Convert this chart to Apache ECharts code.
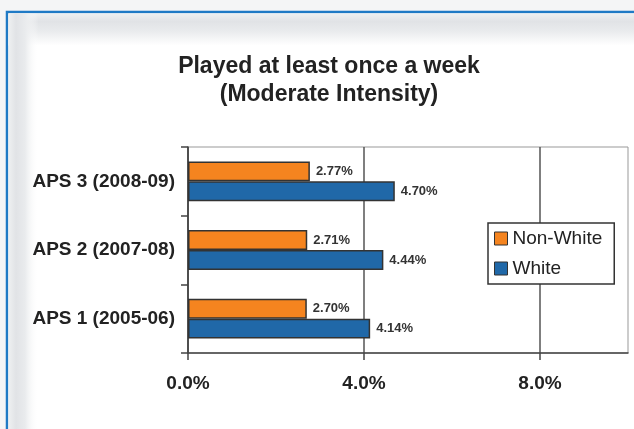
<!DOCTYPE html>
<html>
<head>
<meta charset="utf-8">
<style>
  html, body { margin: 0; padding: 0; background: #f4f5f6; }
  #chart { width: 634px; height: 429px; }
</style>
<script src="https://cdn.jsdelivr.net/npm/echarts@6/dist/echarts.min.js"></script>
</head>
<body>
<div id="chart"></div>
<script>
  // data
  const categories = ['APS 1 (2005-06)', 'APS 2 (2007-08)', 'APS 3 (2008-09)'];
  const nonWhite = [2.70, 2.71, 2.77];
  const white = [4.14, 4.44, 4.70];
  const xTicks = [0, 4, 8];

  const FONT = '"Liberation Sans", Arial, sans-serif';
  const chart = echarts.init(document.getElementById('chart'));

  const barLabel = {
    show: true,
    position: 'right',
    distance: 6,
    color: '#333',
    fontSize: 13,
    fontWeight: 'bold',
    fontFamily: FONT,
    formatter: p => p.value.toFixed(2) + '%'
  };

  const option = {
    backgroundColor: '#f4f5f6',
    animation: false,
    textStyle: { fontFamily: FONT },
    // frame: blue border + soft grey shadow along top / left
    graphic: [
      {
        type: 'rect', z: -100, silent: true,
        shape: { x: 7, y: 12, width: 700, height: 500 },
        style: { fill: '#fff', stroke: '#1f7ac5', lineWidth: 2.5 }
      },
      {
        type: 'rect', z: -99, silent: true,
        shape: { x: 8.5, y: 13.5, width: 640, height: 32 },
        style: {
          fill: new echarts.graphic.LinearGradient(0, 0, 0, 1, [
            { offset: 0, color: '#eef0f1' },
            { offset: 0.25, color: '#e1e3e6' },
            { offset: 0.55, color: '#e9ebed' },
            { offset: 1, color: '#ffffff' }
          ])
        }
      },
      {
        type: 'rect', z: -98, silent: true,
        shape: { x: 8.5, y: 13.5, width: 30, height: 500 },
        style: {
          fill: new echarts.graphic.LinearGradient(0, 0, 1, 0, [
            { offset: 0, color: '#eef0f1' },
            { offset: 0.25, color: '#e1e3e6' },
            { offset: 0.55, color: '#e9ebed' },
            { offset: 1, color: 'rgba(255,255,255,0)' }
          ])
        }
      }
    ],
    title: {
      text: 'Played at least once a week\n(Moderate Intensity)',
      left: 329,
      top: 53,
      padding: 0,
      textAlign: 'center',
      textStyle: {
        fontFamily: FONT,
        fontSize: 23,
        fontWeight: 'bold',
        color: '#222',
        lineHeight: 28
      }
    },
    legend: {
      data: ['Non-White', 'White'],
      orient: 'vertical',
      left: 488,
      top: 223,
      padding: [6, 12, 6, 6],
      itemWidth: 13,
      itemHeight: 13,
      itemGap: 11,
      backgroundColor: '#fff',
      borderColor: '#333',
      borderWidth: 1.5,
      borderRadius: 0,
      icon: 'rect',
      itemStyle: { borderColor: '#333', borderWidth: 1 },
      textStyle: { fontFamily: FONT, fontSize: 19, color: '#222', padding: [2, 0, 0, 0] }
    },
    grid: {
      left: 188,
      right: 6,
      top: 147,
      bottom: 76,
      show: true,
      backgroundColor: '#fff',
      borderColor: '#999',
      borderWidth: 1
    },
    xAxis: {
      type: 'value',
      min: 0,
      max: 10,
      interval: 4,
      axisLine: { show: true, lineStyle: { color: '#444', width: 1.5 } },
      axisTick: { show: true, length: 7, customValues: xTicks, lineStyle: { color: '#444', width: 1.5 } },
      axisLabel: {
        customValues: xTicks,
        margin: 21,
        color: '#222',
        fontSize: 19,
        fontWeight: 'bold',
        fontFamily: FONT,
        formatter: v => v.toFixed(1) + '%'
      },
      splitLine: {
        show: true,
        lineStyle: { color: '#555', width: 1.5 }
      }
    },
    yAxis: {
      type: 'category',
      data: categories,
      axisLine: { show: true, lineStyle: { color: '#444', width: 1.5 } },
      axisTick: { show: true, length: 7, lineStyle: { color: '#444', width: 1.5 } },
      axisLabel: {
        margin: 13,
        color: '#222',
        fontSize: 19,
        fontWeight: 'bold',
        fontFamily: FONT
      }
    },
    series: [
      {
        name: 'Non-White',
        type: 'bar',
        data: nonWhite,
        barGap: '0%',
        barCategoryGap: '42%',
        itemStyle: { color: '#f5841f', borderColor: '#333', borderWidth: 1.5 },
        label: barLabel
      },
      {
        name: 'White',
        type: 'bar',
        data: white,
        barGap: '0%',
        barCategoryGap: '42%',
        itemStyle: { color: '#2068a8', borderColor: '#333', borderWidth: 1.5 },
        label: barLabel
      }
    ]
  };

  chart.setOption(option);
</script>
</body>
</html>
